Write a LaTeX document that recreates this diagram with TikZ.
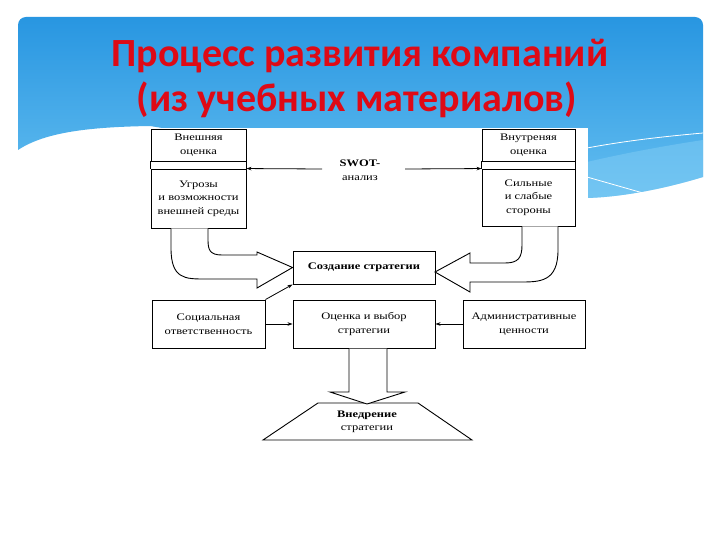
\documentclass[tikz,border=0pt]{standalone}
\usepackage{fontspec}
\setmainfont{Liberation Serif}
\newfontfamily\titlefont{Carlito}
\newfontfamily\dfont[FakeStretch=1.25]{Liberation Serif}
\usetikzlibrary{arrows.meta}
\definecolor{titlered}{RGB}{222,10,22}
\definecolor{skytop}{RGB}{40,150,225}
\definecolor{skybot}{RGB}{100,190,240}
\definecolor{skylight}{RGB}{130,205,245}
\tikzset{
  dtext/.style={font=\dfont\fontsize{10}{13.5}\selectfont},
  box/.style={draw=black, line width=0.9pt, fill=white, inner sep=1pt, align=center, dtext},
  thin/.style={draw=black, line width=0.8pt, -{Stealth[length=5pt,width=3.5pt]}},
  blockarrow/.style={draw=black, line width=0.9pt, fill=white, line join=miter},
  ttl/.style={font=\titlefont\bfseries\fontsize{40}{44}\selectfont, text=titlered, anchor=base, inner sep=0pt}
}
\begin{document}
\begin{tikzpicture}[x=1pt,y=-1pt]
\useasboundingbox (0,0) rectangle (720,540);
\fill[white] (0,0) rectangle (720,540);
% sky background
\shade[top color=skytop, bottom color=skybot]
  (18,150) .. controls (45,132) and (90,127) .. (150,126) -- (587,198)
  .. controls (620,197) and (660,190) .. (703,177) -- (703,25)
  arc[start angle=0, end angle=90, x radius=8, y radius=-8] -- (26,17)
  arc[start angle=90, end angle=180, x radius=8, y radius=-8] -- cycle;
\fill[skylight, opacity=0.5] (587,162) .. controls (630,152) and (670,145) .. (703,140) -- (703,177)
  .. controls (660,190) and (620,197) .. (587,198) -- cycle;
\draw[white, line width=0.8pt] (587,148) .. controls (630,140) and (670,136) .. (703,133);
\draw[white, line width=0.8pt] (587,177) -- (643,193);
% diagram image area
\fill[white] (148,128) rectangle (588,445);
% title
\node[ttl] (t1) at (360,67) {Процесс развития компаний};
\node[ttl] (t2) at (357,112) {(из учебных материалов)};
% top boxes
\node[box, minimum width=95pt, minimum height=32pt] (extTop) at (198.5,145) {Внешняя\\оценка};
\node[box, minimum width=95pt, minimum height=59pt] (extBot) at (198.5,198.5) {Угрозы\\и возможности\\внешней среды};
\draw[line width=0.9pt] (extTop.south west) -- (extBot.north west) (extTop.south east) -- (extBot.north east);
\node[box, minimum width=93pt, minimum height=32pt] (intTop) at (528.5,145) {Внутреняя\\оценка};
\node[box, minimum width=93pt, minimum height=57pt] (intBot) at (528.5,197.5) {Сильные\\и слабые\\стороны};
\draw[line width=0.9pt] (intTop.south west) -- (intBot.north west) (intTop.south east) -- (intBot.north east);
% SWOT
\node[align=center, inner sep=0pt, dtext] (swot) at (360,170) {\textbf{SWOT-}\\анализ};
\coordinate (swL) at (322,169);
\coordinate (swR) at (405,169);
\draw[thin] (swL) -- (extBot.north east);
\draw[thin] (swR) -- (intBot.north west);
% middle boxes
\node[box, minimum width=142pt, minimum height=33pt, font=\dfont\bfseries\fontsize{10}{13.5}\selectfont] (create) at (364,267.5) {Создание стратегии};
\node[box, minimum width=113pt, minimum height=48pt] (social) at (208.5,324) {Социальная\\ответственность};
\node[box, minimum width=142pt, minimum height=48pt] (eval) at (364,324) {Оценка и выбор\\стратегии};
\node[box, minimum width=122pt, minimum height=48pt] (admin) at (524,324) {Административные\\ценности};
% block arrows
\draw[blockarrow] (171,228.5) -- (171,248) .. controls (171,279) and (185,279) .. (205,279) -- (257,279)
  -- (257,288) -- (create.west) -- (257,252) -- (257,255) -- (222,255)
  .. controls (210,255) and (208,250) .. (208,240) -- (208,228.5);
\draw[blockarrow] (558,226.5) -- (558,250) .. controls (558,282) and (540,282) .. (520,282) -- (470,282)
  -- (470,292) -- (435,272) -- (470,253) -- (470,263) -- (505,263)
  .. controls (518,263) and (522,258) .. (522,245) -- (522,226.5);
% thin arrows
\draw[thin] (social.east) -- (eval.west);
\draw[thin] (social.north east) -- (create.south west);
\draw[thin] (admin.west) -- (eval.east);
% implementation
\draw[line width=0.9pt, fill=white] (318,403) -- (418,403) -- (472,440) -- (263,440) -- cycle;
\node[align=center, inner sep=0pt, font=\dfont\bfseries\fontsize{10}{13.5}\selectfont] (impl) at (367,422) {Внедрение\\\mdseries стратегии};
\draw[blockarrow] (349,348.5) -- (349,392) -- (330,392) -- (367,404) -- (405,392) -- (387,392) -- (387,348.5);
\end{tikzpicture}
\end{document}
